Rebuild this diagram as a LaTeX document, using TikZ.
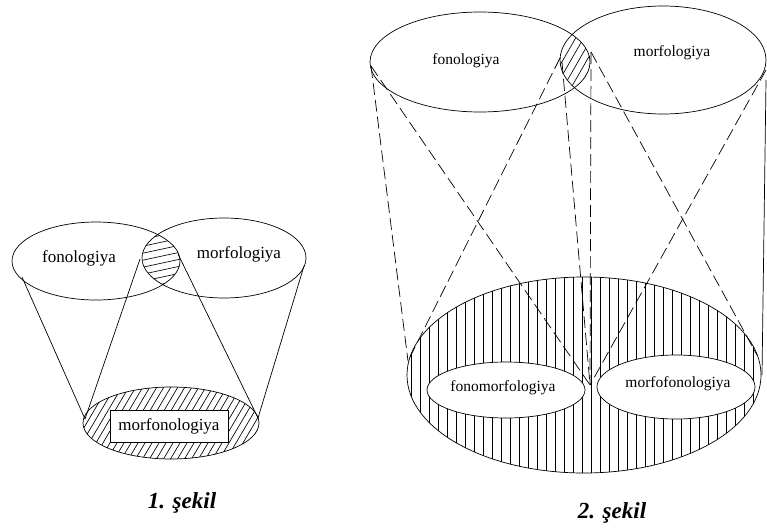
\documentclass[tikz,border=0pt]{standalone}
\usepackage{fontspec}
\setmainfont{Liberation Serif}
\usetikzlibrary{shapes.geometric}
\begin{document}
\begin{tikzpicture}[x=1pt,y=-1pt,
  oval/.style={draw, ellipse, inner sep=0pt, line width=0.7pt},
  cone/.style={line width=0.7pt},
  dashcone/.style={line width=0.7pt, dash pattern=on 12pt off 5pt},
  hatch/.style={line width=0.65pt},
  lblA/.style={font=\fontsize{17}{20}\selectfont, inner sep=0pt},
  lblB/.style={font=\fontsize{15.5}{18}\selectfont, inner sep=0pt},
  caption/.style={font=\fontsize{23}{26}\selectfont\bfseries\itshape, inner sep=0pt}]
\useasboundingbox (0,0) rectangle (767,527);

% ---------- Figure 1 ----------
% hatched lens of the two upper sets
\begin{scope}
  \clip (96,261) ellipse [x radius=84pt, y radius=39pt];
  \clip (224,258) ellipse [x radius=82pt, y radius=40pt];
  \foreach \y in {222,229,...,320} \draw[hatch] (125,\y) -- (195,\y-15);
\end{scope}
% hatched lower set
\begin{scope}
  \clip (171,423) ellipse [x radius=88pt, y radius=36pt];
  \foreach \x in {20,27,...,300} \draw[hatch] (\x,465) -- (\x+50,380);
\end{scope}

\node[oval, minimum width=168pt, minimum height=78pt] (fon1) at (96,261) {};
\node[oval, minimum width=164pt, minimum height=80pt] (mor1) at (224,258) {};
\node[oval, minimum width=176pt, minimum height=72pt] (low1) at (171,423) {};
\node[lblA] (fon1t) at (79,258) {fonologiya};
\node[lblA] (mor1t) at (239,254) {morfologiya};
\node[lblA, draw, fill=white, line width=0.7pt, minimum width=118pt, minimum height=32pt]
  (mf1) at (169,426) {morfonologiya};

\coordinate (a1) at (22,277);
\coordinate (a2) at (140,259);
\coordinate (a3) at (178,254);
\coordinate (a4) at (304,266);
\coordinate (b1) at (85,419);
\coordinate (b2) at (258,418);
\draw[cone] (a1) -- (b1);
\draw[cone] (a2) -- (b1);
\draw[cone] (a3) -- (b2);
\draw[cone] (a4) -- (b2);

\node[caption] (cap1) at (182,503) {1. şekil};

% ---------- Figure 2 ----------
% hatched lens of the two upper sets
\begin{scope}
  \clip (480,62) ellipse [x radius=110pt, y radius=50pt];
  \clip (663,60) ellipse [x radius=103pt, y radius=54pt];
  \foreach \x in {500,508,...,630} \draw[hatch] (\x,100) -- (\x+46,20);
\end{scope}
% vertically hatched lower set
\begin{scope}
  \clip (584,375) ellipse [x radius=177pt, y radius=98pt];
  \foreach \x in {402,411,...,770} \draw[hatch] (\x,270) -- (\x,480);
\end{scope}

\node[oval, minimum width=220pt, minimum height=100pt] (fon2) at (480,62) {};
\node[oval, minimum width=206pt, minimum height=108pt] (mor2) at (663,60) {};
\node[oval, minimum width=354pt, minimum height=196pt] (low2) at (584,375) {};
\node[oval, fill=white, minimum width=158pt, minimum height=56pt] (fm2) at (506,390) {};
\node[oval, fill=white, minimum width=158pt, minimum height=64pt] (mf2) at (676,387) {};
\node[lblB] (fon2t) at (466,61) {fonologiya};
\node[lblB] (mor2t) at (672,53) {morfologiya};
\node[lblB] (fm2t) at (503,388) {fonomorfologiya};
\node[lblB] (mf2t) at (678,384) {morfofonologiya};

\coordinate (p1) at (371,66);
\coordinate (p2) at (560,58);
\coordinate (p3) at (562,62);
\coordinate (p4) at (591,52);
\coordinate (p5) at (766,70);
\coordinate (p6) at (766,80);
\coordinate (q1) at (408,361);
\coordinate (q2) at (590,385);
\coordinate (q3) at (757,355);
\coordinate (q4) at (762,375);
\draw[dashcone] (p1) -- (q1);
\draw[dashcone] (p1) -- (q2);
\draw[dashcone] (p2) -- (q1);
\draw[dashcone] (p3) -- (q2);
\draw[dashcone] (p4) -- (q2);
\draw[dashcone] (p4) -- (q3);
\draw[dashcone] (p5) -- (q2);
\draw[cone] (p6) -- (q4);

\node[caption] (cap2) at (612,513) {2. şekil};
\end{tikzpicture}
\end{document}
